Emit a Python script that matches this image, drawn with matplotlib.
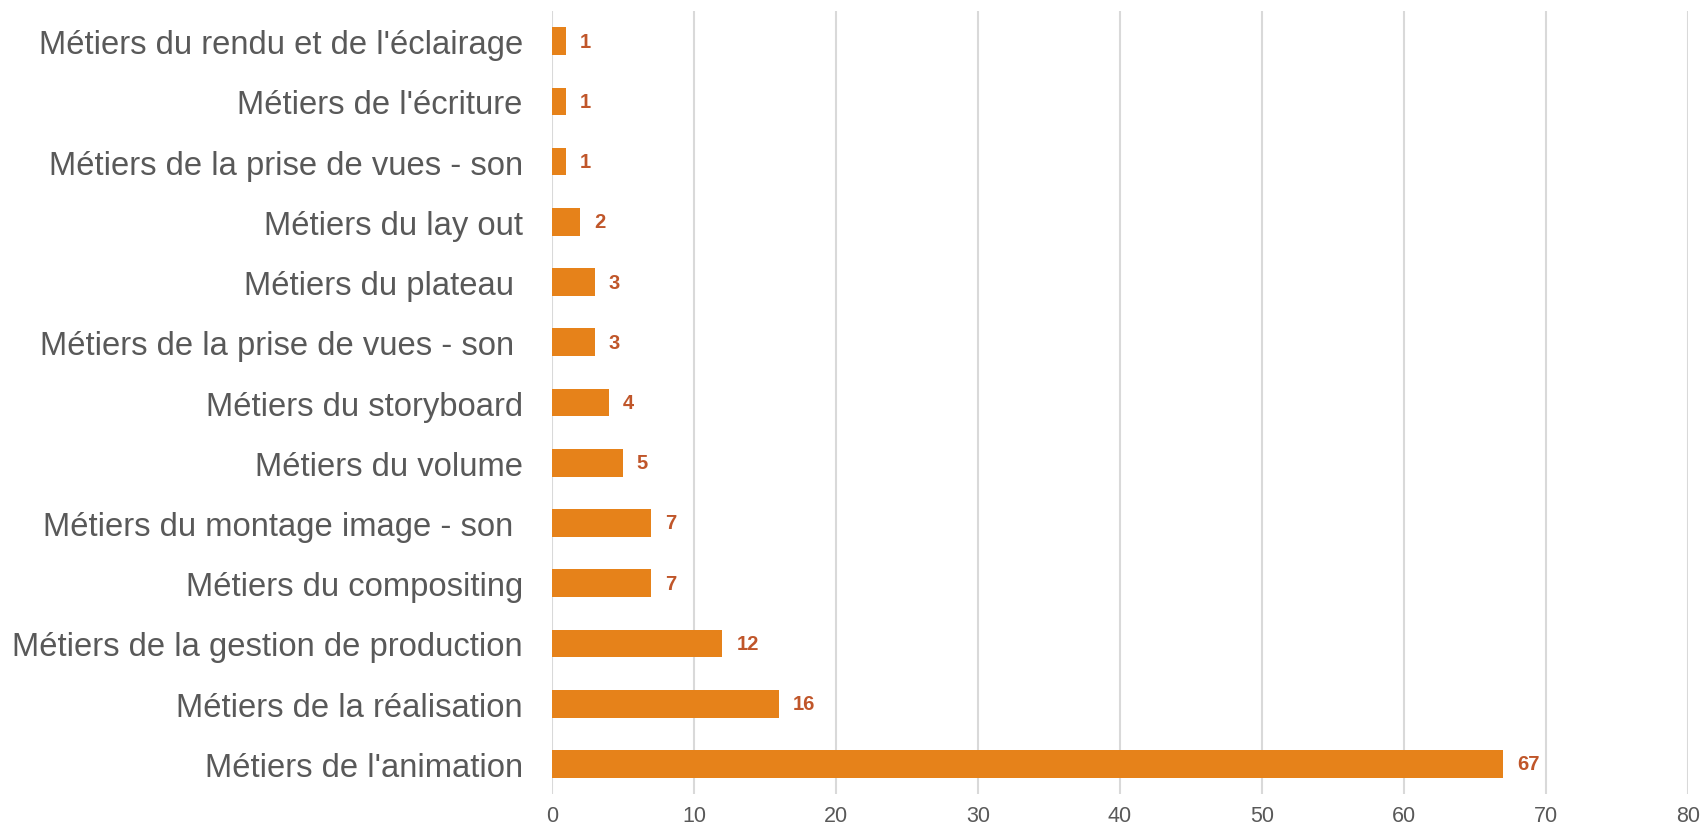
import matplotlib
matplotlib.use("Agg")
import matplotlib.pyplot as plt

# top to bottom, as in the chart
categories = [
    "Métiers du rendu et de l'éclairage",
    "Métiers de l'écriture",
    "Métiers de la prise de vues - son",
    "Métiers du lay out",
    "Métiers du plateau ",
    "Métiers de la prise de vues - son ",
    "Métiers du storyboard",
    "Métiers du volume",
    "Métiers du montage image - son ",
    "Métiers du compositing",
    "Métiers de la gestion de production",
    "Métiers de la réalisation",
    "Métiers de l'animation",
]
counts = [1, 1, 1, 2, 3, 3, 4, 5, 7, 7, 12, 16, 67]
x_ticks = [0, 10, 20, 30, 40, 50, 60, 70, 80]

BAR_COLOR = "#E6821A"
LABEL_COLOR = "#C0562A"
TEXT_COLOR = "#595959"
GRID_COLOR = "#D9D9D9"

plt.rcParams["font.family"] = ["Liberation Sans", "DejaVu Sans"]

fig = plt.figure(figsize=(17.02, 8.29), dpi=100)
ax = fig.add_axes([0.3243, 0.041, 0.6675, 0.9445])

ypos = list(range(len(categories)))
bars = ax.barh(ypos, counts, height=0.46, color=BAR_COLOR, zorder=3)

for rect, val in zip(bars, counts):
    ax.annotate(str(val),
                xy=(rect.get_width(), rect.get_y() + rect.get_height() / 2),
                xytext=(10, 0), textcoords="offset points",
                ha="left", va="center", fontsize=14.5, fontweight="bold",
                color=LABEL_COLOR)

ax.set_ylim(len(categories) - 0.5, -0.5)
ax.set_xlim(0, 80)
ax.set_yticks(ypos)
ax.set_yticklabels(categories, fontsize=23.6, color=TEXT_COLOR)
ax.set_xticks(x_ticks)
ax.set_xticklabels([str(t) for t in x_ticks], fontsize=15.5, color=TEXT_COLOR)

ax.tick_params(axis="y", length=0, pad=21)
ax.tick_params(axis="x", length=0, pad=8)
ax.grid(axis="x", color=GRID_COLOR, linewidth=1.5, zorder=0)
for s in ax.spines.values():
    s.set_visible(False)

fig.savefig("out.png", dpi=100)
